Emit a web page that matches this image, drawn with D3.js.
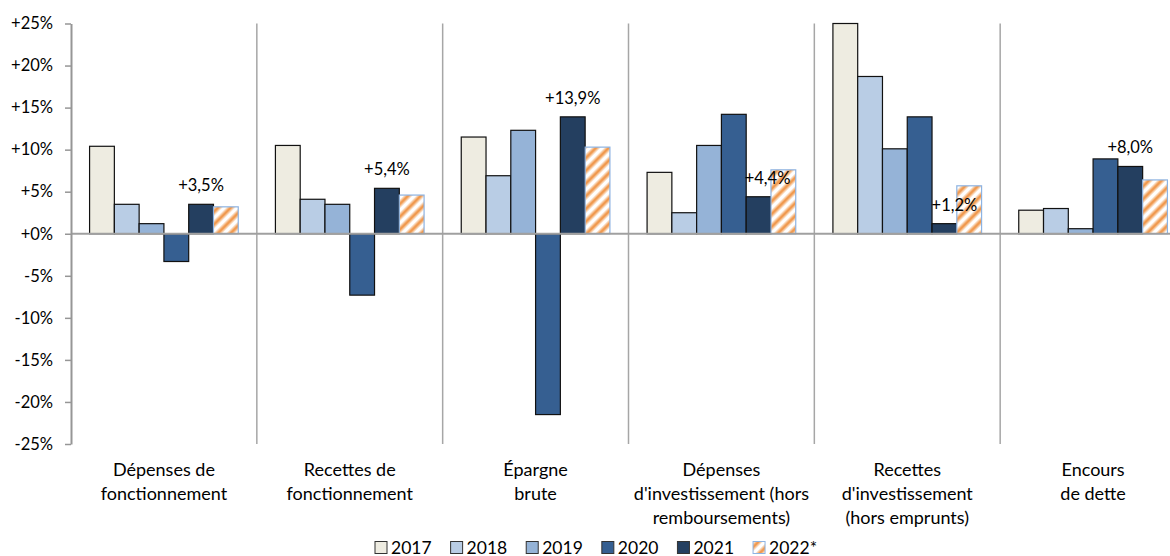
<!DOCTYPE html>
<html lang="fr">
<head>
<meta charset="utf-8">
<script src="https://cdn.jsdelivr.net/npm/d3@7"></script>
<style>
  html, body { margin: 0; padding: 0; background: #fff; }
  svg { display: block; font-family: Lato, "Open Sans", sans-serif; }
</style>
</head>
<body>
<svg id="chart" width="1170" height="556"></svg>
<script>
// Évolution annuelle des principaux agrégats financiers (en %)
const categories = [
  ["Dépenses de", "fonctionnement"],
  ["Recettes de", "fonctionnement"],
  ["Épargne", "brute"],
  ["Dépenses", "d'investissement (hors", "remboursements)"],
  ["Recettes", "d'investissement", "(hors emprunts)"],
  ["Encours", "de dette"]
];
const years = ["2017", "2018", "2019", "2020", "2021", "2022*"];

const v2017 = [10.4, 10.5, 11.5, 7.3, 25.0, 2.8];
const v2018 = [3.5, 4.1, 6.9, 2.5, 18.7, 3.0];
const v2019 = [1.2, 3.5, 12.3, 10.5, 10.1, 0.6];
const v2020 = [-3.3, -7.3, -21.5, 14.2, 13.9, 8.9];
const v2021 = [3.5, 5.4, 13.9, 4.4, 1.2, 8.0];
const v2022 = [3.2, 4.6, 10.3, 7.6, 5.7, 6.4];

const yTicks = [-25, -20, -15, -10, -5, 0, 5, 10, 15, 20, 25];

// Only the 2021 series carries value labels
const labelledYear = "2021";
// Small horizontal nudges for labels that would otherwise sit on neighbours
const labelNudge = [0, 0, 0, 9, 10, 0];

const series = [v2017, v2018, v2019, v2020, v2021, v2022];
const catKeys = categories.map(c => c.join(" "));

const rows = [];
catKeys.forEach((cat, i) => {
  years.forEach((yr, j) => rows.push({ cat, i, year: yr, value: series[j][i] }));
});

const fills = {
  "2017": "#EEECE1",
  "2018": "#B9CDE5",
  "2019": "#95B3D7",
  "2020": "#365F91",
  "2021": "#243F60",
  "2022*": "url(#hatch)"
};
const strokes = {
  "2017": "#111", "2018": "#111", "2019": "#111",
  "2020": "#111", "2021": "#111", "2022*": "#8DB3E2"
};

const svg = d3.select("#chart");
const frFmt = d3.formatLocale({ decimal: ",", thousands: " ", grouping: [3], currency: ["", " €"] });
const fmt1 = frFmt.format(".1f");

const plotLeft = 71, plotRight = 1186, plotTop = 23.5, plotBottom = 444;

const x = d3.scaleBand().domain(catKeys).range([plotLeft, plotRight]).padding(0);
const bw = x.bandwidth();
const xi = d3.scaleBand().domain(years).range([bw * 0.1, bw * 0.9]).padding(0);
const y = d3.scaleLinear().domain([-25, 25]).range([plotBottom, plotTop]);

// Hatch pattern for the provisional year
const defs = svg.append("defs");
const pat = defs.append("pattern")
  .attr("id", "hatch")
  .attr("patternUnits", "userSpaceOnUse")
  .attr("width", 9).attr("height", 9)
  .attr("patternTransform", "rotate(45)");
pat.append("rect").attr("width", 9).attr("height", 9).attr("fill", "#FFFFFF");
pat.append("rect").attr("x", 1).attr("width", 6).attr("height", 9).attr("fill", "#F8CFA8").attr("opacity", 0.7);
pat.append("rect").attr("x", 2.5).attr("width", 3).attr("height", 9).attr("fill", "#F09A50");

// Category separators
const seps = catKeys.slice(1).map(c => x(c)).concat([plotRight]);
svg.append("g").selectAll("line").data(seps).join("line")
  .attr("x1", d => d).attr("x2", d => d)
  .attr("y1", plotTop).attr("y2", plotBottom)
  .attr("stroke", "#A6A6A6").attr("stroke-width", 1.5);

// Bars
svg.append("g").selectAll("rect").data(rows).join("rect")
  .attr("x", d => x(d.cat) + xi(d.year))
  .attr("width", xi.bandwidth())
  .attr("y", d => y(Math.max(0, d.value)))
  .attr("height", d => Math.abs(y(d.value) - y(0)))
  .attr("fill", d => fills[d.year])
  .attr("stroke", d => strokes[d.year])
  .attr("stroke-width", 1.2);

// Zero line
svg.append("line")
  .attr("x1", plotLeft).attr("x2", plotRight)
  .attr("y1", y(0)).attr("y2", y(0))
  .attr("stroke", "#A0A0A0").attr("stroke-width", 2);

// Y axis
const yAxis = d3.axisLeft(y)
  .tickValues(yTicks)
  .tickSize(6)
  .tickSizeOuter(0)
  .tickPadding(12)
  .tickFormat(v => (v >= 0 ? "+" : "-") + Math.abs(v) + "%");
const gy = svg.append("g").attr("transform", `translate(${plotLeft},0)`).call(yAxis);
gy.select(".domain").attr("stroke", "#969696").attr("stroke-width", 2);
gy.selectAll(".tick line").attr("stroke", "#969696").attr("stroke-width", 1.5);
gy.selectAll(".tick text").attr("fill", "#000").style("font-size", "16.5px").style("font-family", "Lato, sans-serif");

// Value labels on the 2021 bars
svg.append("g").selectAll("text")
  .data(rows.filter(d => d.year === labelledYear))
  .join("text")
  .attr("x", d => x(d.cat) + xi(d.year) + xi.bandwidth() / 2 + labelNudge[d.i])
  .attr("y", d => y(Math.max(0, d.value)) - 13)
  .attr("text-anchor", "middle")
  .style("font-size", "16.5px")
  .attr("fill", "#000")
  .text(d => (d.value >= 0 ? "+" : "") + fmt1(d.value) + "%");

// Category labels
const cg = svg.append("g").selectAll("text").data(categories).join("text")
  .attr("text-anchor", "middle")
  .style("font-size", "18px")
  .attr("fill", "#000")
  .attr("transform", (d, i) => `translate(${x(catKeys[i]) + bw / 2},476)`);
cg.selectAll("tspan").data(d => d).join("tspan")
  .attr("x", 0)
  .attr("y", (d, k) => k * 24.2)
  .text(d => d);

// Legend
const legend = svg.append("g").attr("transform", "translate(375,541.5)");
let lx = 0;
years.forEach(yr => {
  const item = legend.append("g").attr("transform", `translate(${lx},0)`);
  item.append("rect")
    .attr("width", 12).attr("height", 12)
    .attr("fill", fills[yr])
    .attr("stroke", yr === "2022*" ? "#8DB3E2" : "#333")
    .attr("stroke-width", 1);
  const t = item.append("text")
    .attr("x", 16).attr("y", 12)
    .style("font-size", "17.5px")
    .attr("fill", "#000")
    .text(yr);
  lx += 16 + t.node().getComputedTextLength() + 19;
});
</script>
</body>
</html>
